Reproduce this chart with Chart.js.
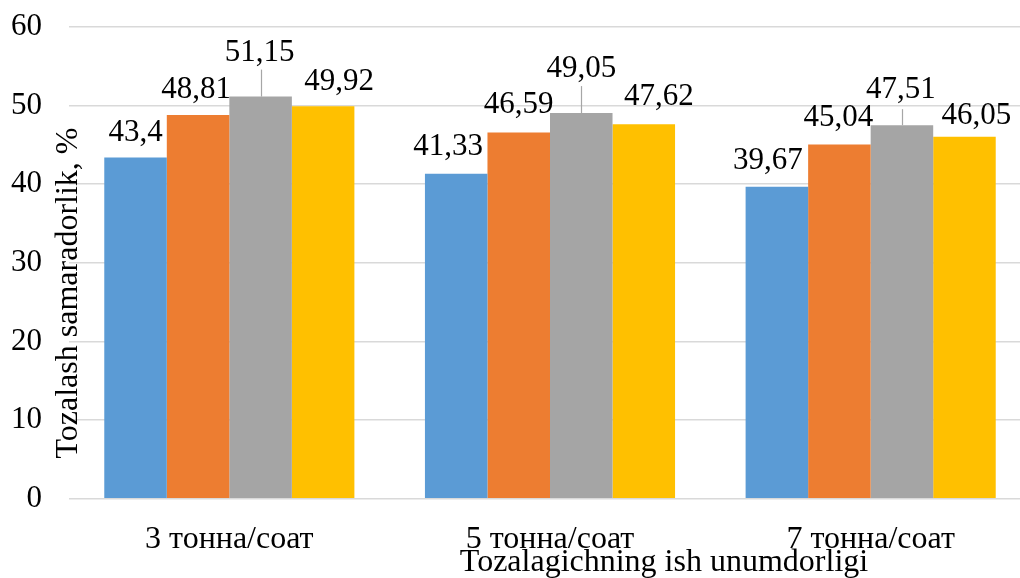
<!DOCTYPE html>
<html>
<head>
<meta charset="utf-8">
<script src="https://cdn.jsdelivr.net/npm/chart.js@4/dist/chart.umd.min.js"></script>
<style>
  html, body { margin: 0; padding: 0; background: #fff; }
  #wrap { width: 1020px; height: 578px; overflow: hidden; }
  canvas { display: block; }
</style>
</head>
<body>
<div id="wrap"><canvas id="c" width="1040" height="578"></canvas></div>
<script>
// Cleaning efficiency by cleaner throughput
const categories = ['3 тонна/соат', '5 тонна/соат', '7 тонна/соат'];
const seriesA = [43.4, 41.33, 39.67];
const seriesB = [48.81, 46.59, 45.04];
const seriesC = [51.15, 49.05, 47.51];
const seriesD = [49.92, 47.62, 46.05];
const yTicks = [0, 10, 20, 30, 40, 50, 60];
const yTitle = 'Tozalash samaradorlik, %';
const xTitle = 'Tozalagichning ish unumdorligi';

const FONT = '"Liberation Serif", "Times New Roman", serif';
const colors = ['#5B9BD5', '#ED7D31', '#A5A5A5', '#FFC000'];

// Label placement per dataset / category: [dx, gap above bar top, leader length]
const labelPlacement = [
  [[0, 17, 0], [-8, 19, 0], [-9, 18, 0]],
  [[-2, 17, 0], [0, 19, 0], [-1, 19, 0]],
  [[-1, 36, 27], [0, 36, 27], [-1, 27, 16]],
  [[16, 16, 0], [15, 19, 0], [12, 13, 0]]
];

const fmt = v => String(v).replace('.', ',');

const valueLabels = {
  id: 'valueLabels',
  afterDatasetsDraw(chart) {
    const ctx = chart.ctx;
    ctx.save();
    ctx.font = '31px ' + FONT;
    ctx.fillStyle = '#000';
    ctx.textAlign = 'center';
    ctx.textBaseline = 'alphabetic';
    chart.data.datasets.forEach((ds, di) => {
      const meta = chart.getDatasetMeta(di);
      meta.data.forEach((bar, i) => {
        const [dx, gap, leader] = labelPlacement[di][i];
        if (leader > 0) {
          ctx.strokeStyle = '#A6A6A6';
          ctx.lineWidth = 1.2;
          ctx.beginPath();
          ctx.moveTo(Math.round(bar.x) + 0.5, bar.y);
          ctx.lineTo(Math.round(bar.x) + 0.5, bar.y - leader);
          ctx.stroke();
        }
        ctx.fillText(fmt(ds.data[i]), bar.x + dx, bar.y - gap);
      });
    });
    ctx.restore();
  }
};

const axisTitles = {
  id: 'axisTitles',
  afterDraw(chart) {
    const ctx = chart.ctx;
    ctx.save();
    ctx.fillStyle = '#000';
    ctx.font = '32px ' + FONT;
    ctx.textAlign = 'center';
    ctx.textBaseline = 'alphabetic';
    ctx.fillText(xTitle, 664, 571);
    ctx.translate(77, 293);
    ctx.rotate(-Math.PI / 2);
    ctx.fillText(yTitle, 0, 0);
    ctx.restore();
  }
};

new Chart(document.getElementById('c'), {
  type: 'bar',
  data: {
    labels: categories,
    datasets: [seriesA, seriesB, seriesC, seriesD].map((d, k) => ({
      label: 'S' + (k + 1),
      data: d,
      backgroundColor: colors[k],
      borderWidth: 0,
      categoryPercentage: 0.78,
      barPercentage: 1.0
    }))
  },
  options: {
    responsive: false,
    animation: false,
    layout: { padding: { top: 27, right: 9, left: 0, bottom: 0 } },
    plugins: { legend: { display: false }, tooltip: { enabled: false } },
    scales: {
      y: {
        min: 0, max: 60,
        afterBuildTicks(scale) { scale.ticks = yTicks.map(v => ({ value: v })); },
        afterFit(scale) {
          scale.width = 69;
          scale.paddingTop = 0;
          scale.paddingBottom = 0;
        },
        ticks: { font: { family: FONT, size: 31 }, color: '#000', padding: 27 },
        grid: { color: '#D9D9D9', lineWidth: 1.5, drawTicks: false },
        border: { display: false }
      },
      x: {
        afterFit(scale) {
          scale.height = 79.3;
          scale.paddingLeft = 0;
          scale.paddingRight = 0;
        },
        ticks: { font: { family: FONT, size: 32 }, color: '#000', padding: 22 },
        grid: { display: false, drawTicks: false },
        border: { display: false }
      }
    }
  },
  plugins: [valueLabels, axisTitles]
});
</script>
</body>
</html>
